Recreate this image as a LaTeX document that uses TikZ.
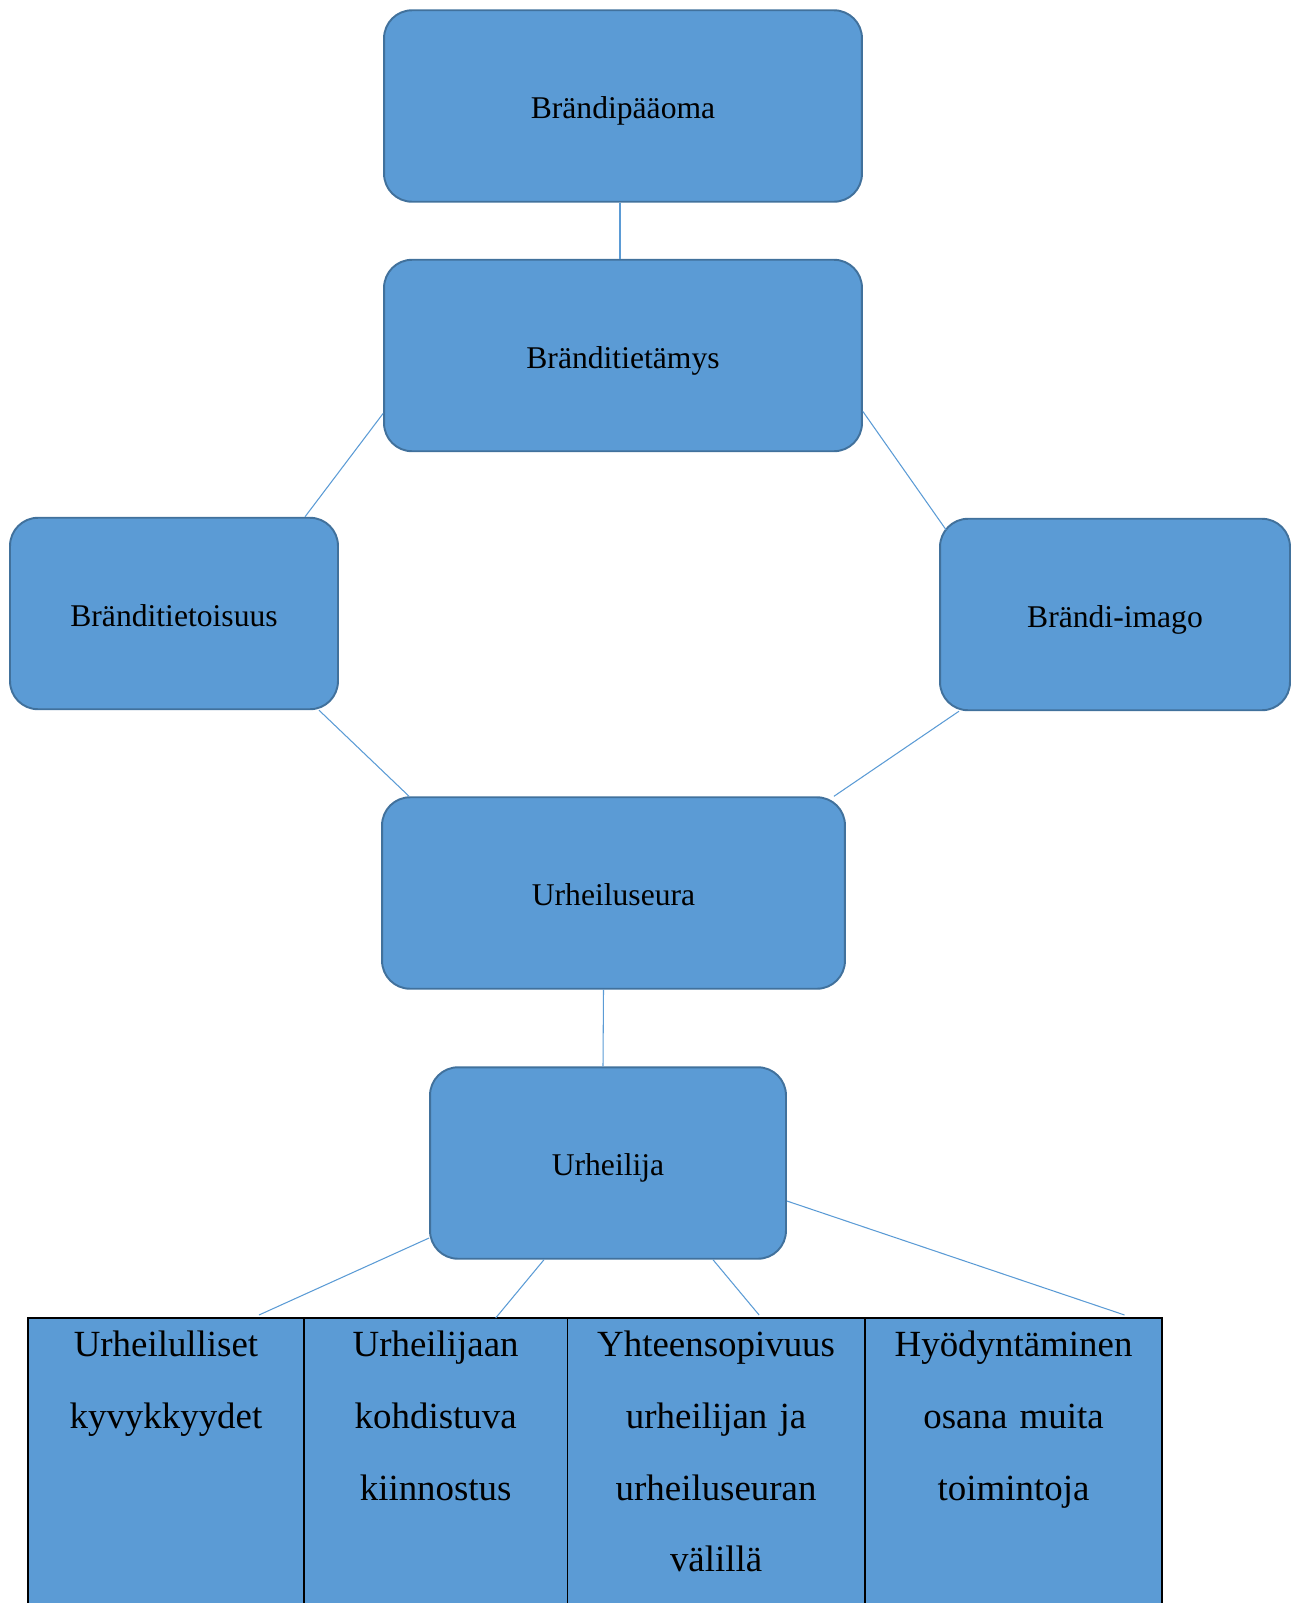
\documentclass[tikz,border=0pt]{standalone}
\usepackage{fontspec}
\setmainfont{Liberation Serif}
\usepackage{xcolor}
\usetikzlibrary{positioning,calc}
\definecolor{boxblue}{HTML}{5B9BD5}
\definecolor{boxedge}{HTML}{41719C}

\begin{document}
\begin{tikzpicture}[x=0.02cm,y=-0.02cm,
    blok/.style={draw=boxedge,line width=1.1pt,fill=boxblue,rounded corners=0.56cm,font=\fontsize{18}{22}\selectfont,text height=14.5pt,text depth=0pt,minimum height=3.83cm},
    solu/.style={draw=black,line width=0.9pt,fill=boxblue,anchor=north west,align=center,font=\fontsize{21}{40.8}\selectfont,text height=15pt,text depth=200pt,inner ysep=7pt,inner xsep=0pt,outer sep=0pt},
    yhteys/.style={draw=boxblue,line width=0.6pt}]
    \useasboundingbox (0,0) rectangle (1297,1603);
    \clip (0,0) rectangle (1297,1603);

    \node[blok,minimum width=9.56cm] (paaoma) at (623,106) {Brändipääoma};
    \node[blok,minimum width=9.56cm] (tietamys) at (623,355.5) {Bränditietämys};
    \node[blok,minimum width=6.56cm] (tietoisuus) at (174,613.5) {Bränditietoisuus};
    \node[blok,minimum width=7.0cm] (imago) at (1115,614.5) {Brändi-imago};
    \node[blok,minimum width=9.26cm] (seura) at (613.5,893) {Urheiluseura};
    \node[blok,minimum width=7.12cm] (urheilija) at (608,1163) {Urheilija};

    \node[solu,text width=5.52cm] (c1) at (28,1318) {Urheilulliset\\kyvykkyydet};
    \node[solu,text width=5.27cm,right=0pt of c1] (c2) {Urheilijaan\\kohdistuva\\kiinnostus};
    \node[solu,text width=5.95cm,right=0pt of c2] (c3) {Yhteensopivuus\\urheilijan ja\\urheiluseuran\\välillä};
    \node[solu,text width=5.95cm,right=0pt of c3] (c4) {Hyödyntäminen\\osana muita\\toimintoja};

    \draw[yhteys] ($(paaoma.south)+(-3,0)$) -- ($(tietamys.north)+(-3,0)$);
    \draw[yhteys] ($(tietamys.west)+(0,58)$) -- ($(tietoisuus.north)+(131,0)$);
    \draw[yhteys] ($(tietamys.east)+(0,56)$) -- ($(imago.north west)+(7,12)$);
    \draw[yhteys] ($(tietoisuus.south)+(145,0)$) -- ($(seura.north west)+(28,0)$);
    \draw[yhteys] ($(imago.south)+(-156,0)$) -- ($(seura.north east)+(-12,0)$);
    \draw[yhteys] ($(seura.south)+(-10,0)$) -- ($(urheilija.north)+(-5,0)$);
    \draw[yhteys] ($(urheilija.west)+(0,75)$) -- ($(c1.north)+(93,-3)$);
    \draw[yhteys] ($(urheilija.south)+(-64,0)$) -- ($(c2.north)+(60,0)$);
    \draw[yhteys] ($(urheilija.south)+(105,0)$) -- ($(c3.north)+(43,-3)$);
    \draw[yhteys] ($(urheilija.east)+(0,38)$) -- ($(c4.north)+(111,-3)$);
\end{tikzpicture}
\end{document}
